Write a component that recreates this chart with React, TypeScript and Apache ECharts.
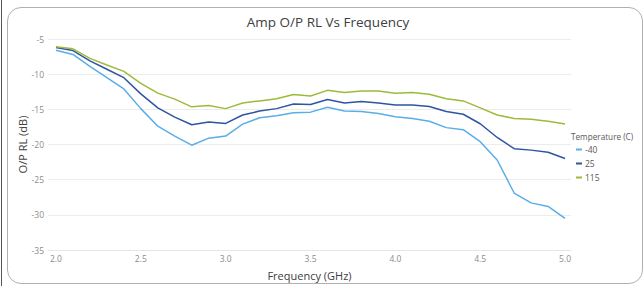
import React, { useEffect, useRef } from "react";
import * as echarts from "echarts";

const freqs = [2.0, 2.1, 2.2, 2.3, 2.4, 2.5, 2.6, 2.7, 2.8, 2.9, 3.0, 3.1, 3.2, 3.3, 3.4, 3.5, 3.6, 3.7, 3.8, 3.9, 4.0, 4.1, 4.2, 4.3, 4.4, 4.5, 4.6, 4.7, 4.8, 4.9, 5.0];
const rlM40 = [-6.6, -7.2, -8.9, -10.5, -12.1, -14.9, -17.4, -18.8, -20.1, -19.1, -18.8, -17.1, -16.2, -15.9, -15.5, -15.4, -14.7, -15.25, -15.3, -15.6, -16.05, -16.3, -16.7, -17.6, -17.9, -19.6, -22.2, -26.9, -28.3, -28.8, -30.5];
const rl25 = [-6.2, -6.65, -8.1, -9.3, -10.5, -12.8, -14.8, -16.1, -17.2, -16.8, -17.0, -15.8, -15.25, -14.9, -14.25, -14.3, -13.6, -14.1, -13.9, -14.1, -14.4, -14.4, -14.6, -15.3, -15.7, -17.05, -19.0, -20.6, -20.8, -21.1, -22.0];
const rl115 = [-6.1, -6.4, -7.75, -8.7, -9.6, -11.3, -12.7, -13.55, -14.65, -14.45, -14.9, -14.1, -13.8, -13.5, -12.9, -13.1, -12.3, -12.6, -12.4, -12.4, -12.7, -12.6, -12.85, -13.5, -13.8, -14.8, -15.8, -16.3, -16.4, -16.7, -17.1];
const seriesNames = ["-40", "25", "115"];
const xTicks = [2.0, 2.5, 3.0, 3.5, 4.0, 4.5, 5.0];

const FONT = "'Open Sans', 'Noto Sans', sans-serif";

export default function App() {
  const ref = useRef<HTMLDivElement>(null);
  useEffect(() => {
    if (!ref.current) return;
    const chart = echarts.init(ref.current, null, { renderer: "svg" });
    const pairs = (ys: number[]) => freqs.map((f, i) => [f, ys[i]]);
    chart.setOption({
      animation: false,
      textStyle: { fontFamily: FONT },
      grid: { left: 48, right: 72, top: 39, bottom: 35 },
      graphic: [
        {
          type: "text",
          x: 328,
          y: 22,
          style: {
            text: "Amp O/P RL Vs Frequency",
            fontSize: 13.5,
            fontFamily: FONT,
            fill: "#404040",
            textAlign: "center",
            textVerticalAlign: "middle",
          },
        },
        {
          type: "text",
          x: 571,
          y: 136,
          style: {
            text: "Temperature (C)",
            fontSize: 8.2,
            fontFamily: FONT,
            fill: "#595959",
            textAlign: "left",
            textVerticalAlign: "middle",
          },
        },
      ],
      legend: {
        orient: "vertical",
        left: 571,
        top: 140,
        icon: "rect",
        itemWidth: 6,
        itemHeight: 2,
        itemGap: 5,
        data: seriesNames,
        textStyle: { fontSize: 8.5, color: "#595959", fontFamily: FONT, padding: [0, 0, 0, -2] },
      },
      xAxis: {
        type: "value",
        min: 1.953,
        max: 5.035,
        name: "Frequency (GHz)",
        nameLocation: "middle",
        nameGap: 20,
        nameMoveOverlap: false,
        nameTextStyle: { fontSize: 11, color: "#404040", fontFamily: FONT },
        axisLine: { show: true, lineStyle: { color: "#e6e6e6" } },
        axisTick: { show: false },
        splitLine: { show: false },
        axisLabel: {
          customValues: xTicks,
          formatter: (v: number) => v.toFixed(1),
          fontSize: 8.5,
          color: "#8c8c8c",
          margin: 4,
        },
      },
      yAxis: {
        type: "value",
        min: -35,
        max: -5,
        interval: 5,
        name: "O/P RL (dB)",
        nameLocation: "middle",
        nameGap: 20,
        nameMoveOverlap: false,
        nameTextStyle: { fontSize: 11, color: "#404040", fontFamily: FONT },
        axisLine: { show: false },
        axisTick: { show: false },
        splitLine: { lineStyle: { color: "#ececec" } },
        axisLabel: { fontSize: 8.5, color: "#8c8c8c", margin: 4 },
      },
      series: [
        { name: seriesNames[0], type: "line", data: pairs(rlM40), showSymbol: false, lineStyle: { width: 1.5, color: "#5aaee6" }, itemStyle: { color: "#5aaee6" } },
        { name: seriesNames[1], type: "line", data: pairs(rl25), showSymbol: false, lineStyle: { width: 1.5, color: "#2f54a3" }, itemStyle: { color: "#2f54a3" } },
        { name: seriesNames[2], type: "line", data: pairs(rl115), showSymbol: false, lineStyle: { width: 1.5, color: "#9dbb3a" }, itemStyle: { color: "#9dbb3a" } },
      ],
    });
    return () => chart.dispose();
  }, []);
  return (
    <div style={{ position: "fixed", left: 0, top: 0, width: 643, height: 286, background: "#fff", overflow: "hidden" }}>
      <div style={{ position: "absolute", left: 1, top: 0, width: 1, height: 286, background: "#555" }} />
      <div style={{ position: "absolute", left: 7, top: 7, width: 636, height: 277, border: "1px solid #b0b0b0", borderRadius: 14, boxSizing: "border-box" }} />
      <div ref={ref} style={{ position: "absolute", left: 0, top: 0, width: 643, height: 286 }} />
    </div>
  );
}
